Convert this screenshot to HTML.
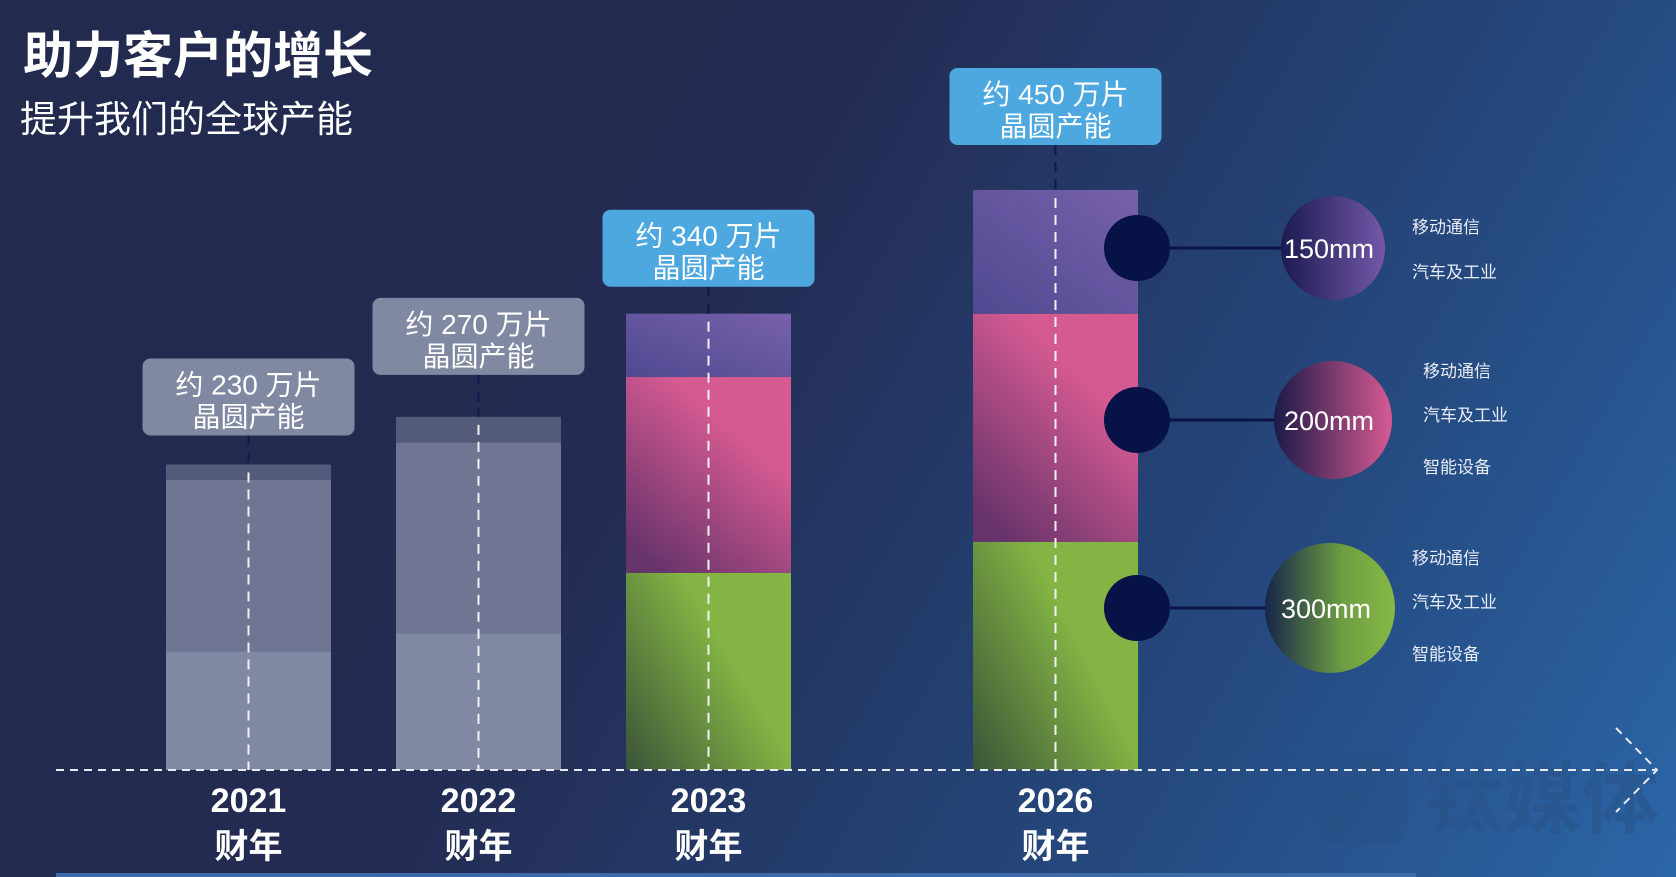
<!DOCTYPE html>
<html><head><meta charset="utf-8">
<style>
html,body{margin:0;padding:0;}
body{width:1676px;height:877px;overflow:hidden;position:relative;font-family:"Liberation Sans","Noto Sans CJK SC",sans-serif;
background:linear-gradient(120deg,#222a4e 0%,#232b52 40%,#254a80 75%,#2b66a8 100%);}
.t{position:absolute;color:#fff;white-space:nowrap;}
</style></head>
<body>
<div class="t" style="left:23px;top:26px;font-size:50px;font-weight:bold;line-height:60px;">助力客户的增长</div>
<div class="t" style="left:20px;top:96px;font-size:37px;line-height:48px;">提升我们的全球产能</div>
<div class="t" style="left:1315px;top:752px;width:92px;height:92px;border-radius:20px;background:rgba(40,80,130,0.35);"></div>
<div class="t" style="left:1425px;top:758px;font-size:78px;font-weight:bold;color:rgba(40,80,130,0.45);line-height:84px;">钛媒体</div>
<svg id="chart" width="1676" height="877" style="position:absolute;left:0;top:0" xmlns="http://www.w3.org/2000/svg">
<defs>
<linearGradient id="gGreen" x1="1" y1="0.3" x2="0" y2="1"><stop offset="0.3" stop-color="#84b544"/><stop offset="1" stop-color="#3a5438"/></linearGradient>
<linearGradient id="gPink" x1="0.7" y1="0.3" x2="0.2" y2="1"><stop offset="0" stop-color="#d65a92"/><stop offset="1" stop-color="#66336a"/></linearGradient>
<linearGradient id="gPurple" x1="1" y1="0" x2="0" y2="1"><stop offset="0" stop-color="#7860ac"/><stop offset="1" stop-color="#4e4a90"/></linearGradient>
<linearGradient id="c150" x1="0" y1="0" x2="1" y2="0"><stop offset="0" stop-color="#1a1a50"/><stop offset="1" stop-color="#7458a8"/></linearGradient>
<linearGradient id="c200" x1="0" y1="0" x2="1" y2="0"><stop offset="0" stop-color="#1c1a48"/><stop offset="1" stop-color="#d65a92"/></linearGradient>
<linearGradient id="c300" x1="0" y1="0" x2="1" y2="0"><stop offset="0" stop-color="#16254a"/><stop offset="0.6" stop-color="#6e9e42"/><stop offset="1" stop-color="#86b844"/></linearGradient>
</defs>
<g id="bars"></g>
<g id="overlay"></g>
</svg>
<script>
const years = ["2021","2022","2023","2026"];
const totals = ["约 230 万片","约 270 万片","约 340 万片","约 450 万片"];
const seg300 = [92,106,153,177];
const seg200 = [133,148,152,177];
const seg150 = [12,20,49,96];
const legendSizes = ["150mm","200mm","300mm"];
const legendApps = [["移动通信","汽车及工业"],["移动通信","汽车及工业","智能设备"],["移动通信","汽车及工业","智能设备"]];

const NS="http://www.w3.org/2000/svg";
const baseY=770, k=1.289, barW=165;
const barX=[166,396,626,973];
function yv(v){return v*k;}
function mk(tag,attrs,parent){const e=document.createElementNS(NS,tag);for(const a in attrs)e.setAttribute(a,attrs[a]);parent.appendChild(e);return e;}
const bars=document.getElementById('bars'), ov=document.getElementById('overlay');
years.forEach((yr,i)=>{
  const x=barX[i]; const grey=i<2;
  const fills=grey?["#8188a3","#6f7592","#545b7a"]:["url(#gGreen)","url(#gPink)","url(#gPurple)"];
  const vals=[seg300[i],seg200[i],seg150[i]]; const names=["300mm","200mm","150mm"];
  let y=baseY;
  vals.forEach((v,j)=>{const h=yv(v); y-=h;
    const r=mk('rect',{x:x,y:y,width:barW,height:h,fill:fills[j]},bars);
    
    
  });
  const top=y;
  const cx=x+barW/2;
  const bw=212,bh=77; const by=top-(i==3?122:i==2?104:i==1?119:106);
  const ln=mk('line',{x1:cx,y1:by+bh,x2:cx,y2:top,stroke:"#0d1a4a","stroke-width":2,"stroke-dasharray":"10 7"},ov);
  
  
  const l2=mk('line',{x1:cx,y1:top+8,x2:cx,y2:baseY,stroke:"#f0f0f5","stroke-width":2,"stroke-dasharray":"10 7"},ov);
  
  
  const box=mk('rect',{x:cx-bw/2,y:by,width:bw,height:bh,rx:8,fill:grey?"#8088a2":"#4da8e0"},ov);
  
  
  const t1=mk('text',{x:cx,y:by+36,"text-anchor":"middle",fill:"#fff","font-size":28},ov); t1.textContent=totals[i];
  
  
  const t2=mk('text',{x:cx,y:by+68,"text-anchor":"middle",fill:"#fff","font-size":28},ov); t2.textContent="晶圆产能";
  
  
  const y1=mk('text',{x:cx,y:812,"text-anchor":"middle",fill:"#fff","font-size":34,"font-weight":"bold"},ov); y1.textContent=yr;
  
  
  const y2=mk('text',{x:cx,y:858,"text-anchor":"middle",fill:"#fff","font-size":34,"font-weight":"bold"},ov); y2.textContent="财年";
  
  
});
const bl=mk('line',{x1:56,y1:baseY,x2:1655,y2:baseY,stroke:"#e8eaf2","stroke-width":2,"stroke-dasharray":"8 6"},ov);


const ar=mk('polyline',{points:"1616,728 1657,770 1616,812",fill:"none",stroke:"#e8eaf2","stroke-width":2,"stroke-dasharray":"8 6"},ov);


const bot=mk('rect',{x:56,y:873,width:1360,height:4,fill:"#3d6aa8"},ov);


const legCY=[248,420,608], legR=[52,59,65], legCX=[1333,1333,1330], grads=["url(#c150)","url(#c200)","url(#c300)"];
const appX=[1412,1423,1412], appY=[[227,272],[371,415,467],[558,602,654]];
legendSizes.forEach((s,i)=>{
  const cy=legCY[i];
  const l=mk('line',{x1:1137,y1:cy,x2:legCX[i]-legR[i]+2,y2:cy,stroke:"#0a1446","stroke-width":3},ov);
  
  
  const d=mk('circle',{cx:1137,cy:cy,r:33,fill:"#071246"},ov);
  
  
  const c=mk('circle',{cx:legCX[i],cy:cy,r:legR[i],fill:grads[i]},ov);
  
  
  const t=mk('text',{x:legCX[i]-4,y:cy+10,"text-anchor":"middle",fill:"#fff","font-size":27},ov); t.textContent=s;
  
  
  legendApps[i].forEach((a,j)=>{
    const at=mk('text',{x:appX[i],y:appY[i][j]+6,fill:"#e8ecf6","font-size":17},ov); at.textContent=a;
    
    
  });
});
</script>
</body></html>
